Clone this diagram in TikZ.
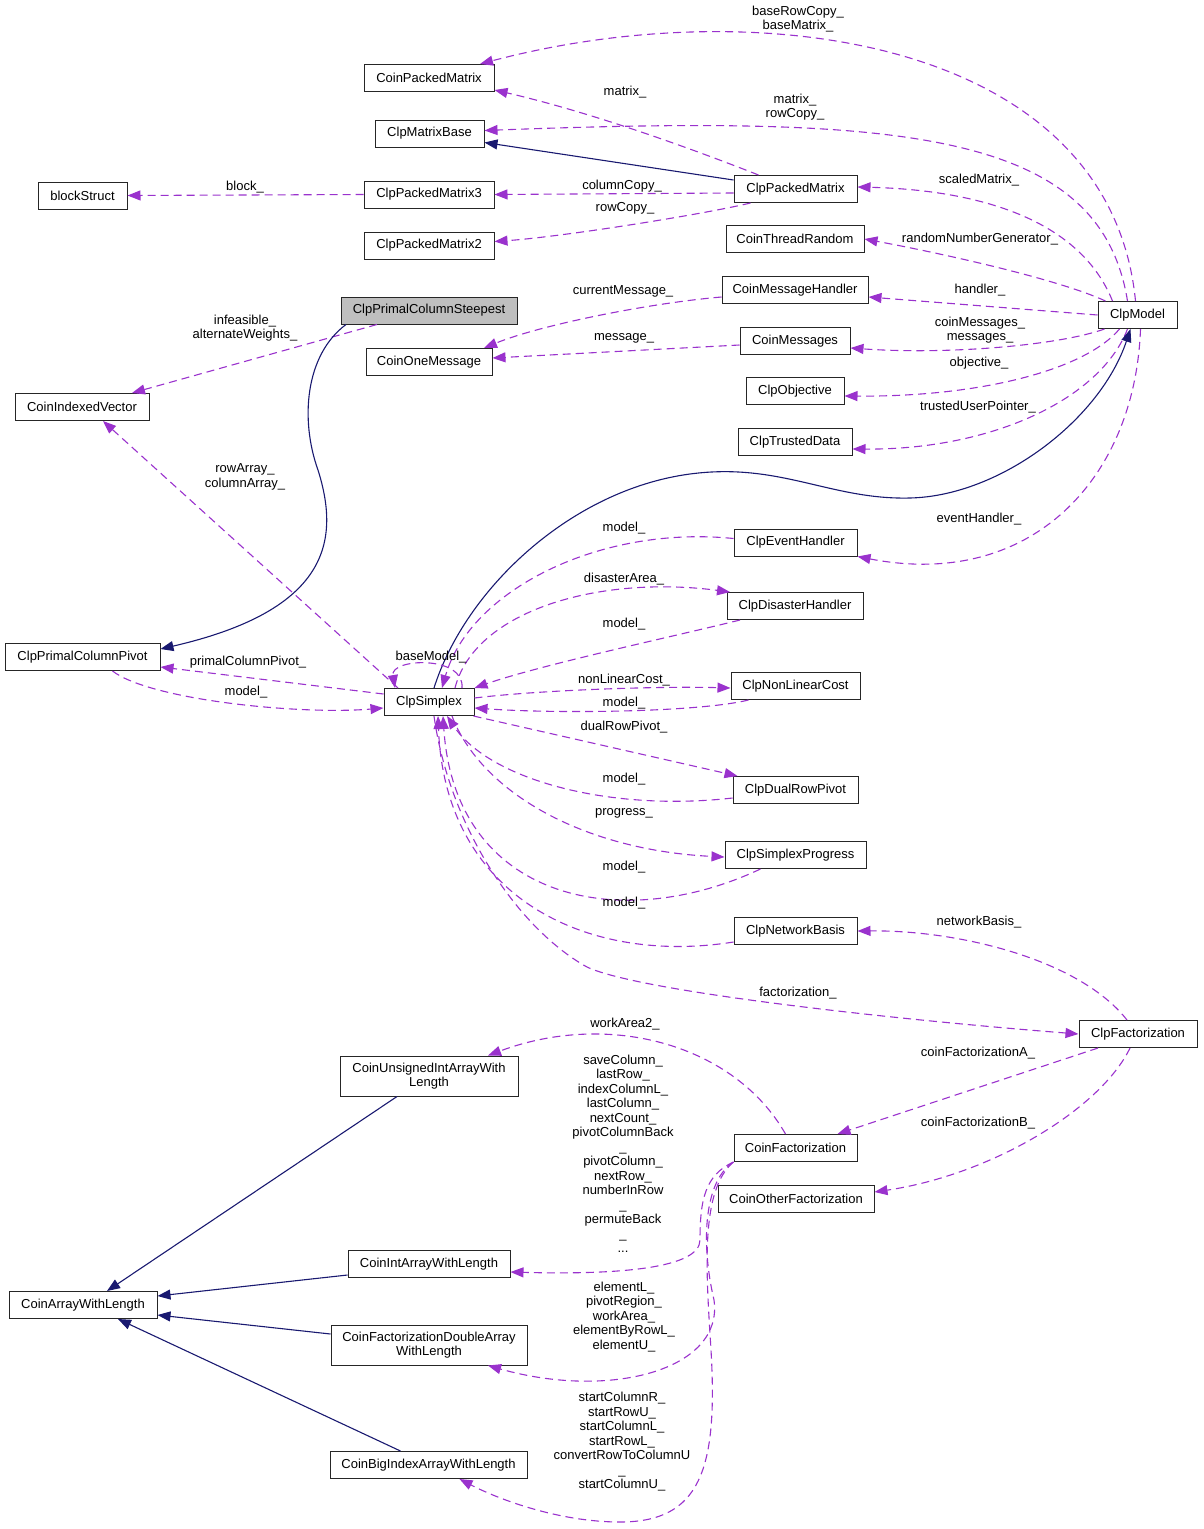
\documentclass[tikz,border=0pt]{standalone}
\usepackage{fontspec}
\setmainfont{Liberation Sans}
\usetikzlibrary{arrows.meta}
\definecolor{depcol}{HTML}{9A32CD}
\definecolor{inhcol}{HTML}{191970}
\definecolor{focuscol}{HTML}{BFBFBF}
\tikzset{
  cls/.style={draw=black!85, fill=white, line width=1pt, minimum height=27pt,
    inner sep=0pt, align=center, font=\fontsize{13}{14.5}\selectfont},
  lbl/.style={inner sep=0pt, align=center, font=\fontsize{13}{14.5}\selectfont},
  uses/.style={->, >={Triangle[length=13pt,width=10pt]}, draw=depcol,
    line width=1.1pt, dash pattern=on 8pt off 5pt},
  isa/.style={->, >={Triangle[length=13pt,width=10pt]}, draw=inhcol,
    line width=1.1pt}
}

\begin{document}
\begin{tikzpicture}[x=1pt,y=-1pt]
  \useasboundingbox (0,0) rectangle (1203,1529);

  % classes
  \node[cls, minimum width=130] (cpm) at (429,78) {CoinPackedMatrix};
  \node[cls, minimum width=109] (cmb) at (429.5,133.5) {ClpMatrixBase};
  \node[cls, minimum width=89] (bs) at (82.5,195.5) {blockStruct};
  \node[cls, minimum width=130] (cpm3) at (429,194.5) {ClpPackedMatrix3};
  \node[cls, minimum width=130] (cpm2) at (429,245.5) {ClpPackedMatrix2};
  \node[cls, minimum width=123] (cpmx) at (795.5,189) {ClpPackedMatrix};
  \node[cls, minimum width=138] (ctr) at (795,239) {CoinThreadRandom};
  \node[cls, minimum width=146] (cmh) at (795,290) {CoinMessageHandler};
  \node[cls, minimum width=110] (cms) at (795,341) {CoinMessages};
  \node[cls, minimum width=98] (cob) at (795,391) {ClpObjective};
  \node[cls, minimum width=114] (ctd) at (795,442) {ClpTrustedData};
  \node[cls, minimum width=79] (cmod) at (1137.5,315) {ClpModel};
  \node[cls, fill=focuscol, minimum width=176] (cpcs) at (429,310.5) {ClpPrimalColumnSteepest};
  \node[cls, minimum width=126] (com) at (429,362) {CoinOneMessage};
  \node[cls, minimum width=134] (civ) at (82,407) {CoinIndexedVector};
  \node[cls, minimum width=123] (ceh) at (795.5,542.5) {ClpEventHandler};
  \node[cls, minimum width=136] (cdh) at (795,606) {ClpDisasterHandler};
  \node[cls, minimum width=129] (cnl) at (795.5,686) {ClpNonLinearCost};
  \node[cls, minimum width=155] (cpcp) at (82.5,657) {ClpPrimalColumnPivot};
  \node[cls, minimum width=90] (cs) at (429,702) {ClpSimplex};
  \node[cls, minimum width=125] (cdr) at (795.5,790) {ClpDualRowPivot};
  \node[cls, minimum width=141] (csp) at (795.5,855) {ClpSimplexProgress};
  \node[cls, minimum width=123] (cnb) at (795.5,931) {ClpNetworkBasis};
  \node[cls, minimum width=118] (cf) at (1138,1034) {ClpFactorization};
  \node[cls, minimum width=178, minimum height=40] (cuia) at (429,1076) {CoinUnsignedIntArrayWith\\Length};
  \node[cls, minimum width=123] (coinf) at (795.5,1148) {CoinFactorization};
  \node[cls, minimum width=156] (cof) at (796,1199) {CoinOtherFactorization};
  \node[cls, minimum width=162] (ciaw) at (429,1264) {CoinIntArrayWithLength};
  \node[cls, minimum width=148] (caw) at (83,1305) {CoinArrayWithLength};
  \node[cls, minimum width=196, minimum height=40] (cfda) at (429,1345) {CoinFactorizationDoubleArray\\WithLength};
  \node[cls, minimum width=197] (cbia) at (428.5,1465) {CoinBigIndexArrayWithLength};

  % ClpModel members
  \draw[uses] ([xshift=-2pt]cmod.north) .. controls (1110,40) and (760,-10) .. ([xshift=51pt]cpm.north);
  \draw[uses] ([xshift=-10pt]cmod.north) .. controls (1100,130) and (900,115) .. ([yshift=3pt]cmb.east);
  \draw[uses] ([xshift=-25pt]cmod.north) .. controls (1080,220) and (980,190) .. ([yshift=2pt]cpmx.east);
  \draw[uses] ([xshift=-32pt]cmod.north) .. controls (1060,280) and (950,255) .. (ctr.east);
  \draw[uses] (cmod.west) -- ([yshift=-7pt]cmh.east);
  \draw[uses] ([xshift=-33pt]cmod.south) .. controls (1060,345) and (950,355) .. ([yshift=-7pt]cms.east);
  \draw[uses] ([xshift=-18pt]cmod.south) .. controls (1085,370) and (980,397) .. ([yshift=-5pt]cob.east);
  \draw[uses] ([xshift=-10pt]cmod.south) .. controls (1100,400) and (990,450) .. ([yshift=-7pt]ctd.east);
  \draw[uses] ([xshift=3pt]cmod.south) .. controls (1135,480) and (1030,590) .. (ceh.south east);

  % ClpPackedMatrix
  \draw[uses] ([xshift=-37pt]cpmx.north) .. controls (690,148) and (590,112) .. ([yshift=-12pt]cpm.east);
  \draw[isa] ([yshift=9pt]cpmx.west) -- ([yshift=-9pt]cmb.east);
  \draw[uses] ([yshift=-4pt]cpmx.west) -- (cpm3.east);
  \draw[uses] ([xshift=-45pt]cpmx.south) .. controls (700,215) and (560,237) .. ([yshift=4pt]cpm2.east);
  \draw[uses] (cpm3.west) -- (bs.east);

  % messages
  \draw[uses] ([yshift=-7pt]cmh.west) .. controls (650,303) and (540,325) .. ([xshift=55pt]com.north);
  \draw[uses] ([yshift=-4pt]cms.west) -- ([yshift=4pt]com.east);

  % steepest
  \draw[uses] ([xshift=-52pt]cpcs.south) -- ([xshift=50pt]civ.north);
  \draw[isa] ([xshift=-83pt]cpcs.south) .. controls (305,355) and (300,420) .. (318,470)
    .. controls (340,540) and (330,610) .. ([yshift=8pt]cpcp.east);

  % ClpSimplex
  \draw[isa] ([xshift=5pt]cs.north) .. controls (465,590) and (570,490) .. (690,474)
    .. controls (780,462) and (830,500) .. (910,498)
    .. controls (1000,496) and (1100,420) .. ([xshift=-7pt]cmod.south);
  \draw[uses] ([xshift=-31pt]cs.north) -- ([xshift=21pt]civ.south);
  \draw[uses] ([yshift=8pt]cs.west) -- ([yshift=-10pt]cpcp.east);
  \draw[uses] ([xshift=30pt]cpcp.south) .. controls (150,700) and (300,715) .. ([yshift=-6pt]cs.west);
  \draw[uses] ([xshift=33pt]cs.north) .. controls (465,655) and (390,658) .. ([xshift=-34pt]cs.north);
  \draw[uses] ([yshift=4pt]ceh.west) .. controls (600,525) and (470,590) .. ([xshift=13pt]cs.north);
  \draw[uses] ([xshift=26pt]cs.north) .. controls (475,610) and (600,575) .. ([xshift=-65pt]cdh.north);
  \draw[uses] ([xshift=-55pt]cdh.south) .. controls (680,635) and (540,665) .. (cs.north east);
  \draw[uses] ([yshift=4pt]cs.east) .. controls (540,690) and (660,686) .. ([yshift=-2pt]cnl.west);
  \draw[uses] ([xshift=-47pt]cnl.south) .. controls (700,712) and (560,714) .. ([yshift=-6pt]cs.east);
  \draw[uses] ([xshift=-1pt]cs.south east) -- ([xshift=-58pt]cdr.north);
  \draw[uses] ([yshift=-8pt]cdr.west) .. controls (610,812) and (490,780) .. ([xshift=18pt]cs.south);
  \draw[uses] ([xshift=23pt]cs.south) .. controls (480,790) and (580,850) .. ([yshift=-2pt]csp.west);
  \draw[uses] ([xshift=-35pt]csp.south) .. controls (620,935) and (455,900) .. ([xshift=14pt]cs.south);
  \draw[uses] ([yshift=-11pt]cnb.west) .. controls (590,965) and (445,900) .. ([xshift=9pt]cs.south);
  \draw[uses] ([xshift=5pt]cs.south) .. controls (450,830) and (520,930) .. (587,967)
    .. controls (640,992) and (900,1020) .. (cf.west);

  % factorization
  \draw[uses] ([xshift=-11pt]cf.north) .. controls (1080,960) and (960,930) .. (cnb.east);
  \draw[uses] ([xshift=-40pt]cf.south) -- ([xshift=42pt]coinf.north);
  \draw[uses] ([xshift=-8pt]cf.south) .. controls (1100,1110) and (990,1175) .. ([yshift=7pt]cof.east);
  \draw[uses] ([xshift=-10pt]coinf.north) .. controls (735,1045) and (610,1010) .. ([xshift=59pt]cuia.north);
  \draw[uses] (coinf.south west) .. controls (705,1175) and (700,1200) .. (700,1240)
    .. controls (700,1268) and (620,1275) .. ([yshift=-8pt]ciaw.east);
  \draw[uses] (coinf.south west) .. controls (705,1180) and (700,1240) .. (714,1300)
    .. controls (724,1370) and (610,1400) .. ([xshift=59pt]cfda.south);
  \draw[uses] (coinf.south west) .. controls (700,1190) and (706,1270) .. (711,1350)
    .. controls (718,1470) and (700,1522) .. (620,1522)
    .. controls (560,1522) and (500,1500) .. ([xshift=31pt]cbia.south);

  % arrays
  \draw[isa] ([xshift=-32pt]cuia.south) -- ([xshift=24pt]caw.north);
  \draw[isa] ([yshift=-11pt]ciaw.west) -- ([yshift=9pt]caw.east);
  \draw[isa] ([yshift=11pt]cfda.west) -- ([yshift=-10pt]caw.east);
  \draw[isa] ([xshift=-28pt]cbia.north) -- ([xshift=35pt]caw.south);

  % labels
  \node[lbl] (lbase) at (798,19) {baseRowCopy\_\\baseMatrix\_};
  \node[lbl] (lmat) at (625,92) {matrix\_};
  \node[lbl] (lmatrow) at (795,107) {matrix\_\\rowCopy\_};
  \node[lbl] (lblock) at (245,187) {block\_};
  \node[lbl] (lcolcopy) at (622,186) {columnCopy\_};
  \node[lbl] (lrowcopy) at (625,208) {rowCopy\_};
  \node[lbl] (lscaled) at (979,180) {scaledMatrix\_};
  \node[lbl] (lrandom) at (980,239) {randomNumberGenerator\_};
  \node[lbl] (lhandler) at (980,290) {handler\_};
  \node[lbl] (lcurmsg) at (623,291) {currentMessage\_};
  \node[lbl] (lcoinmsg) at (980,330) {coinMessages\_\\messages\_};
  \node[lbl] (lmsg) at (624,338) {message\_};
  \node[lbl] (lobj) at (979,363) {objective\_};
  \node[lbl] (ltrusted) at (978,407) {trustedUserPointer\_};
  \node[lbl] (linfeas) at (245,328) {infeasible\_\\alternateWeights\_};
  \node[lbl] (lrowarr) at (245,477) {rowArray\_\\columnArray\_};
  \node[lbl] (levent) at (979,519) {eventHandler\_};
  \node[lbl] (lmodelA) at (624,528) {model\_};
  \node[lbl] (ldisaster) at (624,579) {disasterArea\_};
  \node[lbl] (lmodelB) at (624,624) {model\_};
  \node[lbl] (lbasemodel) at (431,657) {baseModel\_};
  \node[lbl] (lprimal) at (248,662) {primalColumnPivot\_};
  \node[lbl] (lnonlin) at (624,680) {nonLinearCost\_};
  \node[lbl] (lmodelC) at (246,692) {model\_};
  \node[lbl] (lmodelD) at (624,703) {model\_};
  \node[lbl] (ldual) at (624,727) {dualRowPivot\_};
  \node[lbl] (lmodelE) at (624,779) {model\_};
  \node[lbl] (lprogress) at (624,813) {progress\_};
  \node[lbl] (lmodelF) at (624,867) {model\_};
  \node[lbl] (lmodelG) at (624,903) {model\_};
  \node[lbl] (lnetwork) at (979,922) {networkBasis\_};
  \node[lbl] (lfact) at (798,993) {factorization\_};
  \node[lbl] (lwork2) at (625,1024) {workArea2\_};
  \node[lbl] (lfactA) at (978,1053) {coinFactorizationA\_};
  \node[lbl] (lfactB) at (978,1123) {coinFactorizationB\_};
  \node[lbl] (lintarr) at (623,1154) {saveColumn\_\\lastRow\_\\indexColumnL\_\\lastColumn\_\\nextCount\_\\pivotColumnBack\\\_\\pivotColumn\_\\nextRow\_\\numberInRow\hspace*{22pt}\\\_\\permuteBack\hspace*{26pt}\\\_\\...};
  \node[lbl] (ldblarr) at (624,1317) {elementL\_\\pivotRegion\_\\workArea\_\\elementByRowL\_\\elementU\_};
  \node[lbl] (lbigarr) at (622,1442) {startColumnR\_\\startRowU\_\\startColumnL\_\\startRowL\_\\convertRowToColumnU\\\_\\startColumnU\_};
\end{tikzpicture}
\end{document}
